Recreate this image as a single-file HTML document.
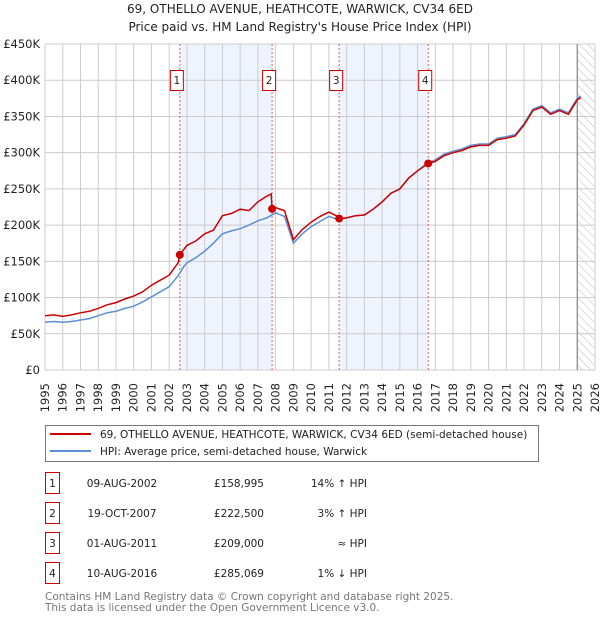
<!DOCTYPE html>
<html><head><meta charset="utf-8"><style>
body{margin:0;background:#fff;font-family:"DejaVu Sans","Liberation Sans",sans-serif;}
svg text{font-family:"DejaVu Sans","Liberation Sans",sans-serif;}
</style></head><body>
<svg id="c" width="600" height="620" xmlns="http://www.w3.org/2000/svg">
<defs><pattern id="hatch" width="6" height="6" patternUnits="userSpaceOnUse" patternTransform="rotate(-45)"><line x1="0" y1="0" x2="0" y2="6" stroke="#bbb" stroke-width="1"/></pattern></defs>
<text x="300" y="13" text-anchor="middle" font-size="12" fill="#222">69, OTHELLO AVENUE, HEATHCOTE, WARWICK, CV34 6ED</text>
<text x="300" y="31" text-anchor="middle" font-size="12" fill="#222">Price paid vs. HM Land Registry's House Price Index (HPI)</text>
<g id="plot"></g>
<g>
<rect x="45.5" y="425.5" width="493" height="36" fill="#fff" stroke="#777"/>
<line x1="50" y1="434" x2="91" y2="434" stroke="#cc0000" stroke-width="2"/>
<text x="100" y="438" font-size="10.5" fill="#222">69, OTHELLO AVENUE, HEATHCOTE, WARWICK, CV34 6ED (semi-detached house)</text>
<line x1="50" y1="451" x2="91" y2="451" stroke="#5b8fd4" stroke-width="2"/>
<text x="100" y="455" font-size="10.5" fill="#222">HPI: Average price, semi-detached house, Warwick</text>
</g>
<g id="table" font-size="10.5" fill="#222"></g>
<text x="45" y="600" font-size="10.5" fill="#777">Contains HM Land Registry data © Crown copyright and database right 2025.</text>
<text x="45" y="611" font-size="10.5" fill="#777">This data is licensed under the Open Government Licence v3.0.</text>
</svg>
<script>
const hpiT=[1995,1995.5,1996,1996.5,1997,1997.5,1998,1998.5,1999,1999.5,2000,2000.5,2001,2001.5,2002,2002.5,2002.8,2003,2003.5,2004,2004.5,2005,2005.5,2006,2006.5,2007,2007.5,2008,2008.5,2009,2009.5,2010,2010.5,2011,2011.5,2012,2012.5,2013,2013.5,2014,2014.5,2015,2015.5,2016,2016.5,2017,2017.5,2018,2018.5,2019,2019.5,2020,2020.5,2021,2021.5,2022,2022.5,2023,2023.5,2024,2024.5,2025,2025.2];
const hpiV=[66,67,66,67,69,71,75,79,81,85,88,94,101,108,115,130,142,148,155,164,175,188,192,195,200,206,210,217,212,175,188,198,205,212,208,210,213,214,222,232,244,250,265,275,285,290,298,302,305,310,312,312,320,322,325,340,360,365,355,360,355,375,378];
const redT=[1995,1995.5,1996,1996.5,1997,1997.5,1998,1998.5,1999,1999.5,2000,2000.5,2001,2001.5,2002,2002.5,2002.6,2003,2003.5,2004,2004.5,2005,2005.5,2006,2006.5,2007,2007.5,2007.75,2007.8,2008,2008.5,2009,2009.5,2010,2010.5,2011,2011.5,2011.6,2012,2012.5,2013,2013.5,2014,2014.5,2015,2015.5,2016,2016.6,2017,2017.5,2018,2018.5,2019,2019.5,2020,2020.5,2021,2021.5,2022,2022.5,2023,2023.5,2024,2024.5,2025,2025.2];
const redV=[75,76,74,76,79,81,85,90,93,98,102,108,117,124,131,148,159,172,178,188,193,213,216,222,220,232,240,243,222,224,220,180,194,204,212,218,212,209,210,213,214,222,232,244,250,265,275,285,288,296,300,303,308,310,310,318,320,323,338,358,363,353,358,353,373,376];
const saleT=[2002.6,2007.8,2011.58,2016.6];
const saleV=[158.995,222.5,209,285.069];
const saleLbl=['1','2','3','4'];
const saleDate=['09-AUG-2002','19-OCT-2007','01-AUG-2011','10-AUG-2016'];
const salePrice=['£158,995','£222,500','£209,000','£285,069'];
const saleHpi=['14% ↑ HPI','3% ↑ HPI','≈ HPI','1% ↓ HPI'];
const yTicks=[0,50,100,150,200,250,300,350,400,450];
const yTickLbl=['£0','£50K','£100K','£150K','£200K','£250K','£300K','£350K','£400K','£450K'];
const xYears=[1995,1996,1997,1998,1999,2000,2001,2002,2003,2004,2005,2006,2007,2008,2009,2010,2011,2012,2013,2014,2015,2016,2017,2018,2019,2020,2021,2022,2023,2024,2025,2026];

const NS='http://www.w3.org/2000/svg';
const X0=45,X1=595,Y0=370,Y1=44;
const xs=t=>X0+(t-1995)/(2026-1995)*(X1-X0);
const ys=v=>Y0-v/450*(Y0-Y1);
const plot=document.getElementById('plot');
function mk(tag,attrs,parent){const e=document.createElementNS(NS,tag);for(const k in attrs)e.setAttribute(k,attrs[k]);(parent||plot).appendChild(e);return e;}

let e;
e=mk('rect',{x:X0,y:Y1,width:X1-X0,height:Y0-Y1,fill:'#fff'});


for(const [a,b] of [[0,1],[2,3]]){
  e=mk('rect',{x:xs(saleT[a]),y:Y1,width:xs(saleT[b])-xs(saleT[a]),height:Y0-Y1,fill:'#eef3fd'});
  
  
}
e=mk('rect',{x:xs(2025),y:Y1,width:X1-xs(2025),height:Y0-Y1,fill:'url(#hatch)'});


for(const y of xYears){
  e=mk('line',{x1:xs(y),x2:xs(y),y1:Y1,y2:Y0,stroke:'#ccc','stroke-width':1});
  
  
  e=mk('text',{x:0,y:0,'font-size':11.5,fill:'#222','text-anchor':'end',transform:`translate(${xs(y)+4},${Y0+13}) rotate(-90)`});
  e.textContent=y;
  
  
}
yTicks.forEach((v,i)=>{
  e=mk('line',{x1:X0,x2:X1,y1:ys(v),y2:ys(v),stroke:'#ccc','stroke-width':1});
  
  
  e=mk('text',{x:40,y:ys(v)+4,'font-size':11.5,fill:'#222','text-anchor':'end'});
  e.textContent=yTickLbl[i];
  
  
});
e=mk('line',{x1:xs(2025),x2:xs(2025),y1:Y1,y2:Y0,stroke:'#888','stroke-width':1.2});


saleT.forEach((t,i)=>{
  e=mk('line',{x1:xs(t),x2:xs(t),y1:Y1,y2:Y0,stroke:'#e06060','stroke-width':1,'stroke-dasharray':'2,2'});
  
  
  e=mk('rect',{x:xs(t)-9.5,y:70.5,width:13,height:20,fill:'#fff',stroke:'#cc0000'});
  
  
  e=mk('text',{x:xs(t)-3,y:84,'font-size':10.5,fill:'#222','text-anchor':'middle'});
  e.textContent=saleLbl[i];
  
  
});
const path=(T,V)=>T.map((t,i)=>(i?'L':'M')+xs(t).toFixed(1)+','+ys(V[i]).toFixed(1)).join('');
e=mk('path',{d:path(hpiT,hpiV),fill:'none',stroke:'#5b8fd4','stroke-width':1.5});


e=mk('path',{d:path(redT,redV),fill:'none',stroke:'#cc0000','stroke-width':1.5});


saleT.forEach((t,i)=>{
  e=mk('circle',{cx:xs(t),cy:ys(saleV[i]),r:4,fill:'#cc0000'});
  
  
});
const tb=document.getElementById('table');
const rowY=[483,513,543,573];
saleLbl.forEach((l,i)=>{
  const cy=rowY[i];
  e=mk('rect',{x:45.5,y:cy-10.5,width:14,height:21,fill:'#fff',stroke:'#cc0000'},tb);
  
  
  const cells=[[52.5,l,'middle','table-row-number'],[122,saleDate[i],'middle','table-date'],[264,salePrice[i],'end','table-price'],[367,saleHpi[i],'end','table-hpi-change']];
  for(const [x,txt,anc,nm] of cells){
    e=mk('text',{x:x,y:cy+4,'text-anchor':anc},tb);
    e.textContent=txt;
    
    
  }
});
</script>
</body></html>
